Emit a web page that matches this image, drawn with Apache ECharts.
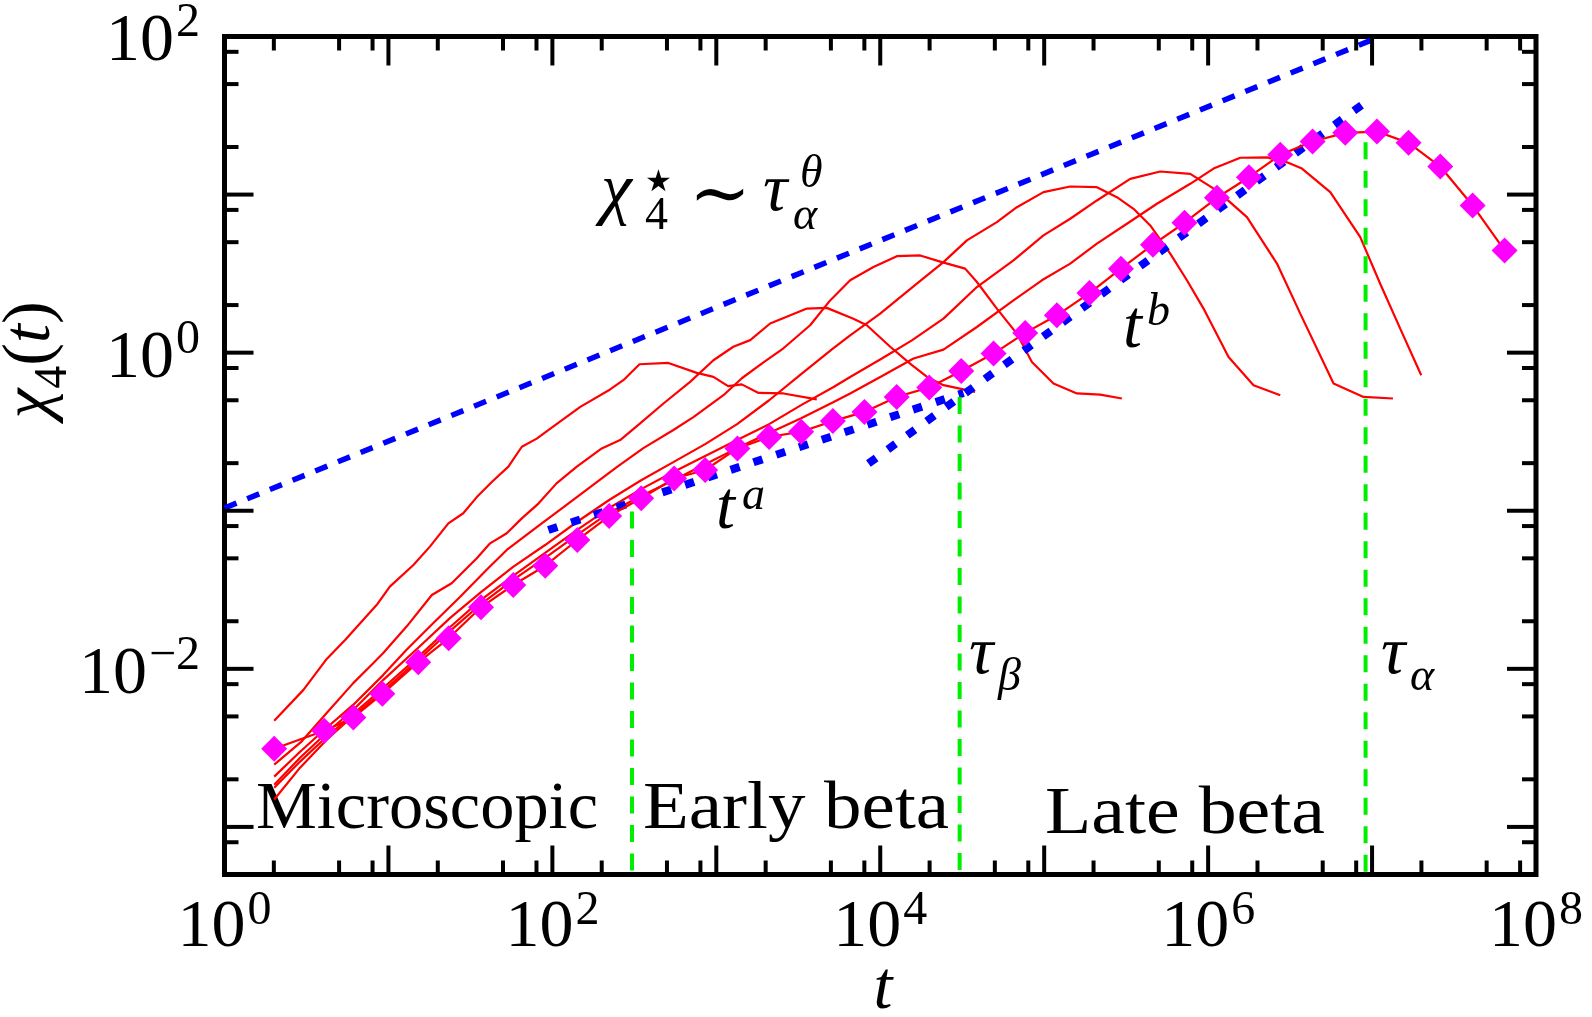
<!DOCTYPE html>
<html>
<head>
<meta charset="utf-8">
<title>chi_4(t)</title>
<script src="https://cdn.jsdelivr.net/npm/echarts@6.0.0/dist/echarts.min.js"></script>
<style>
  html, body { margin: 0; padding: 0; background: #ffffff; }
  #chart { width: 1592px; height: 1017px; }
</style>
</head>
<body>
<div id="chart"></div>
<script>
// ---------- axes ----------
const tRange = [1, 1e8];
const chiRange = [5e-4, 100];
const xMajorTicks = [1, 1e1, 1e2, 1e3, 1e4, 1e5, 1e6, 1e7, 1e8];
const yMajorTicks = [1e-4, 1e-3, 1e-2, 1e-1, 1, 1e1, 1e2];
const minorFactors = [2, 5, 8];
const xTickLabels = [[1, '0'], [1e2, '2'], [1e4, '4'], [1e6, '6'], [1e8, '8']];
const yTickLabels = [[1e-2, '\u22122'], [1, '0'], [1e2, '2']];

// ---------- chi_4(t), one curve per temperature (hottest first) ----------
const tA = [2.01, 3.03, 4.16, 5.44, 8.49, 10.2, 14.2, 17.9, 23.2, 28.6, 34.6, 42.7, 53.9, 65.1, 80.3, 101, 148, 225, 271, 340, 510, 760, 960, 1180, 1430, 1810, 2570, 4100];
const chiA = [0.0047, 0.00736, 0.0114, 0.0152, 0.0254, 0.0331, 0.0454, 0.0593, 0.0832, 0.0964, 0.122, 0.152, 0.190, 0.254, 0.286, 0.340, 0.454, 0.585, 0.670, 0.845, 0.861, 0.745, 0.703, 0.614, 0.630, 0.556, 0.552, 0.506];

const tB = [2.01, 2.96, 4.2, 6.1, 8.1, 9.3, 12.9, 18.4, 24.3, 34.6, 41.7, 52.7, 65.1, 82.2, 106, 141, 200, 259, 343, 476, 692, 960, 1270, 1610, 2130, 3570, 4720, 6860, 8280, 11500, 15200, 19300, 24300, 37900];
const chiB = [0.00248, 0.00348, 0.00525, 0.00812, 0.0109, 0.0126, 0.0185, 0.0293, 0.0348, 0.0500, 0.0622, 0.0720, 0.0895, 0.111, 0.149, 0.190, 0.248, 0.280, 0.357, 0.477, 0.653, 0.895, 1.09, 1.20, 1.53, 1.90, 1.92, 1.64, 1.49, 1.09, 0.853, 0.703, 0.623, 0.565];

const tC = [2.01, 2.89, 4.20, 6.11, 9.31, 12.9, 18.8, 27.3, 40.7, 52.7, 80.3, 117, 170, 247, 359, 547, 725, 1105, 1431, 1939, 2567, 3735, 4947, 6553, 9089, 12630, 17520, 23760, 32960, 38860, 51450, 68130, 84130, 114000, 158300, 219600, 297900];
const chiC = [0.00208, 0.00299, 0.00424, 0.00593, 0.00916, 0.0132, 0.0195, 0.0285, 0.0434, 0.0565, 0.0788, 0.1055, 0.141, 0.189, 0.249, 0.324, 0.391, 0.538, 0.689, 0.869, 1.066, 1.49, 2.14, 2.87, 3.48, 4.08, 4.12, 3.74, 3.40, 2.80, 1.90, 1.32, 0.873, 0.638, 0.552, 0.543, 0.513];

const tD = [2.01, 2.89, 4.20, 6.11, 9.31, 15.2, 23.8, 36.7, 57.6, 90.3, 141, 222, 348, 547, 855, 1339, 2100, 3292, 5160, 6553, 9986, 16720, 24300, 33760, 51450, 68130, 99000, 144100, 209700, 277700, 350600, 443500, 587300, 742600, 937600, 1332000, 1892000, 2754000];
const chiD = [0.00185, 0.00274, 0.00394, 0.00551, 0.00852, 0.0136, 0.0210, 0.0306, 0.0441, 0.0607, 0.0849, 0.117, 0.156, 0.203, 0.264, 0.353, 0.500, 0.731, 1.066, 1.288, 1.766, 2.73, 3.74, 5.13, 6.70, 8.32, 10.36, 11.25, 11.14, 9.63, 8.13, 6.38, 4.23, 2.87, 1.90, 0.940, 0.622, 0.538];

const tE = [2.01, 2.89, 4.20, 6.11, 9.31, 15.2, 23.8, 36.7, 57.6, 90.3, 141, 222, 348, 547, 855, 1339, 2100, 3292, 5160, 6553, 10230, 15590, 24300, 38860, 64960, 99000, 144100, 209700, 334700, 510400, 778000, 1132000, 1725000, 2630000, 3648000, 5823000, 8874000, 13410000];
const chiE = [0.00177, 0.00259, 0.00372, 0.00520, 0.00759, 0.0119, 0.0184, 0.0273, 0.0387, 0.0541, 0.0755, 0.104, 0.137, 0.176, 0.222, 0.280, 0.353, 0.466, 0.604, 0.702, 0.918, 1.197, 1.642, 2.60, 3.84, 5.52, 7.03, 9.18, 12.58, 14.0, 13.53, 10.6, 7.20, 3.66, 1.766, 0.638, 0.525, 0.513];

const tF = [2.01, 2.89, 4.20, 6.11, 9.31, 15.2, 23.8, 36.7, 57.6, 90.3, 141, 222, 348, 547, 855, 1339, 2100, 3292, 5160, 6553, 10460, 15950, 24300, 38860, 64960, 96830, 144100, 209700, 319600, 487100, 778000, 1079000, 1571000, 2285000, 3026000, 3736000, 5559000, 8472000, 11210000, 14850000, 19950000];
const chiF = [0.00149, 0.00237, 0.00356, 0.00505, 0.00726, 0.0114, 0.0174, 0.0257, 0.0365, 0.0503, 0.0702, 0.0972, 0.124, 0.156, 0.197, 0.249, 0.310, 0.385, 0.486, 0.552, 0.719, 0.918, 1.046, 1.453, 2.14, 2.87, 3.66, 4.89, 6.54, 8.75, 11.7, 14.6, 17.1, 17.2, 16.0, 14.6, 10.36, 5.38, 2.73, 1.42, 0.719];

// lowest temperature, drawn with markers
const tM = [2.01, 4.06, 6.11, 9.18, 15.2, 23.3, 36.7, 57.7, 90.5, 142, 222, 348, 553, 855, 1345, 2100, 3290, 5140, 8010, 12600, 19900, 31200, 49100, 76600, 119500, 188900, 293800, 460500, 717800, 1132000, 1774000, 2754000, 4335000, 6863000, 10710000, 16700000, 26070000, 41050000, 64320000];
const chiM = [0.00312, 0.00406, 0.00493, 0.00695, 0.0110, 0.0156, 0.0245, 0.0339, 0.0449, 0.0653, 0.0926, 0.120, 0.160, 0.181, 0.248, 0.293, 0.316, 0.369, 0.422, 0.525, 0.602, 0.766, 0.987, 1.334, 1.723, 2.383, 3.399, 4.818, 6.635, 9.546, 12.88, 17.84, 21.65, 24.57, 25.04, 21.24, 15.05, 8.533, 4.436];

// power laws: peak envelope chi4* ~ tau_alpha^theta, early t^a, late t^b
const envelope = [[1, 0.104], [1.12e7, 100]];
const earlyPower = [[94.5, 0.0755], [32200, 0.556]];
const latePower = [[8470, 0.199], [9.75e6, 40.3]];

// regime boundaries
const tauTimes = [306, 30500, 9.13e6];
const tauTops = [0.099, 0.525, 21.4];

// ---------- helpers ----------
const SERIF = '"Liberation Serif", "DejaVu Serif", serif';
const TICK_FONT = '68px ' + SERIF;
const SUP_FONT = '48px ' + SERIF;
const MID = 0.3375; // canvas "middle" baseline above the alphabetic one, in em

const measureCtx = document.createElement('canvas').getContext('2d');
function textWidth(text, font) { measureCtx.font = font; return measureCtx.measureText(text).width; }
function fontOf(size, italic, family) { return (italic ? 'italic ' : '') + size + 'px ' + (family || SERIF); }
function zip(ts, cs) { return ts.map((t, i) => [t, cs[i]]); }

function textEl(s, x, baseline, size, italic, family, align) {
  return {
    type: 'text', silent: true,
    style: { text: s, x: x, y: baseline - MID * size, font: fontOf(size, italic, family),
             fill: '#000', align: align || 'left', verticalAlign: 'middle' }
  };
}
// text stretched horizontally to a given width, anchored at its left end
function wideText(s, x, baseline, size, targetWidth) {
  const k = targetWidth / textWidth(s, fontOf(size, false));
  return {
    type: 'text', silent: true, x: x, y: 0, scaleX: k,
    style: { text: s, x: 0, y: baseline - MID * size, font: fontOf(size, false),
             fill: '#000', align: 'left', verticalAlign: 'middle' }
  };
}
function flow(parts) {
  let x = 0; const children = [];
  parts.forEach(([s, size, italic, dy]) => {
    children.push(textEl(s, x, dy, size, italic));
    x += textWidth(s, fontOf(size, italic));
  });
  return { children, width: x };
}

// ---------- tick marks ----------
const xTickData = [];
xMajorTicks.forEach(m => {
  xTickData.push([m, 1, 1]);
  minorFactors.forEach(f => { const v = m * f; if (v < tRange[1]) xTickData.push([v, 1, 0]); });
});
const yTickData = [];
yMajorTicks.forEach(m => {
  if (m >= chiRange[0]) yTickData.push([1, m, 1]);
  minorFactors.forEach(f => { const v = m * f; if (v > chiRange[0] * 1.001 && v < chiRange[1]) yTickData.push([1, v, 0]); });
});
const TICK_STYLE = { stroke: '#000', lineWidth: 4 };

function xTickItem(params, api) {
  const cs = params.coordSys;
  const x = api.coord([api.value(0), 1])[0];
  const len = api.value(2) ? 29 : 14;
  const b = cs.y + cs.height, t = cs.y;
  return { type: 'group', children: [
    { type: 'line', shape: { x1: x, y1: b, x2: x, y2: b - len }, style: TICK_STYLE },
    { type: 'line', shape: { x1: x, y1: t, x2: x, y2: t + len }, style: TICK_STYLE }
  ]};
}
function yTickItem(params, api) {
  const cs = params.coordSys;
  const y = api.coord([1, api.value(1)])[1];
  const len = api.value(2) ? 29 : 14;
  const l = cs.x, r = cs.x + cs.width;
  return { type: 'group', children: [
    { type: 'line', shape: { x1: l, y1: y, x2: l + len, y2: y }, style: TICK_STYLE },
    { type: 'line', shape: { x1: r, y1: y, x2: r - len, y2: y }, style: TICK_STYLE }
  ]};
}
function xLabelItem(params, api) {
  const x = api.coord([api.value(0), 1])[0];
  const exp = xTickLabels[params.dataIndex][1];
  const wBase = textWidth('10', TICK_FONT), wSup = textWidth(exp, SUP_FONT);
  const x0 = x - (wBase + wSup + 2) / 2;
  return { type: 'group', children: [
    textEl('10', x0, 951, 68, false),
    textEl(exp, x0 + wBase + 2, 928, 48, false)
  ]};
}
function yLabelItem(params, api) {
  const y = api.coord([1, api.value(1)])[1];
  const exp = yTickLabels[params.dataIndex][1];
  const right = 200;
  const wSup = textWidth(exp, SUP_FONT);
  return { type: 'group', children: [
    textEl(exp, right, y + 3.5, 48, false, null, 'right'),
    textEl('10', right - wSup - 2, y + 29, 68, false, null, 'right')
  ]};
}

// ---------- annotations ----------
const yTitle = flow([['\u03C7', 68, true, 0], ['4', 46, false, 15], ['(', 68, false, 0], ['t', 68, true, 0], [')', 68, false, 0]]);
const xTitleW = textWidth('t', fontOf(68, true));

const graphicEls = [
  { type: 'group', x: 54, y: 360 + yTitle.width / 2, rotation: Math.PI / 2, children: yTitle.children },
  textEl('t', 883 - xTitleW / 2, 1013, 68, true),
  // chi4* ~ tau_alpha^theta
  textEl('\u03C7', 601, 216, 70, true),
  textEl('4', 645, 232, 46, false),
  { type: 'text', silent: true, style: { text: '\u2605', x: 645, y: 183, font: '30px "DejaVu Sans"', fill: '#000', align: 'left', verticalAlign: 'middle' } },
  { type: 'text', silent: true, style: { text: '\u223C', x: 689, y: 199, font: '74px "DejaVu Serif"', fill: '#000', align: 'left', verticalAlign: 'middle' } },
  textEl('\u03C4', 763, 215, 68, true),
  textEl('\u03B1', 793, 232, 46, true),
  textEl('\u03B8', 800, 190, 46, true),
  // power-law exponents
  textEl('t', 716, 533, 68, true),
  textEl('a', 742, 512, 46, true),
  textEl('t', 1123, 352, 68, true),
  textEl('b', 1147, 328, 46, true),
  // relaxation times
  textEl('\u03C4', 969, 678, 68, true),
  textEl('\u03B2', 998, 693, 46, true),
  textEl('\u03C4', 1381, 678, 68, true),
  textEl('\u03B1', 1410, 693, 46, true),
  // regimes
  wideText('Microscopic', 256, 833, 68, 342),
  wideText('Early beta', 643, 833, 68, 306),
  wideText('Late beta', 1045, 838, 68, 280)
];

// ---------- chart ----------
const RED = '#ff0000', BLUE = '#0000ff', GREEN = '#00ee00', MAGENTA = '#ff00ff';
const redCurves = [[tA, chiA], [tB, chiB], [tC, chiC], [tD, chiD], [tE, chiE], [tF, chiF]];

const series = [];
redCurves.forEach(([t, c]) => series.push({
  type: 'line', data: zip(t, c), symbol: 'none', silent: true, z: 2,
  lineStyle: { color: RED, width: 2.2 }
}));
series.push({ type: 'line', data: envelope, symbol: 'none', silent: true, z: 3,
  lineStyle: { color: BLUE, width: 5.5, type: [13, 11.5] } });
series.push({ type: 'line', data: earlyPower, symbol: 'none', silent: true, z: 3,
  lineStyle: { color: BLUE, width: 8, type: [9.5, 14.5] } });
series.push({ type: 'line', data: latePower, symbol: 'none', silent: true, z: 3,
  lineStyle: { color: BLUE, width: 8, type: [9.5, 14.5] } });
tauTimes.forEach((tau, i) => series.push({
  type: 'line', data: [[tau, tauTops[i]], [tau, chiRange[0]]], symbol: 'none', silent: true, z: 4,
  lineStyle: { color: GREEN, width: 4, type: [17, 11.5] }
}));
series.push({ type: 'line', data: zip(tM, chiM), symbol: 'diamond', symbolSize: 26, showSymbol: true,
  silent: true, z: 5, itemStyle: { color: MAGENTA }, lineStyle: { color: RED, width: 2.2 } });
series.push({ type: 'custom', data: xTickData, renderItem: xTickItem, clip: false, silent: true, z: 6 });
series.push({ type: 'custom', data: yTickData, renderItem: yTickItem, clip: false, silent: true, z: 6 });
series.push({ type: 'custom', data: xTickLabels.map(d => [d[0], 1]), renderItem: xLabelItem, clip: false, silent: true, z: 6 });
series.push({ type: 'custom', data: yTickLabels.map(d => [1, d[0]]), renderItem: yLabelItem, clip: false, silent: true, z: 6 });

const chart = echarts.init(document.getElementById('chart'), null, { renderer: 'canvas', width: 1592, height: 1017 });
chart.setOption({
  animation: false,
  backgroundColor: '#ffffff',
  grid: { left: 224.5, top: 36.5, width: 1311.5, height: 838, show: true,
          borderColor: '#000', borderWidth: 5, backgroundColor: 'transparent' },
  xAxis: { type: 'log', logBase: 10, min: tRange[0], max: tRange[1],
           axisLine: { show: false }, axisTick: { show: false }, axisLabel: { show: false }, splitLine: { show: false } },
  yAxis: { type: 'log', logBase: 10, min: chiRange[0], max: chiRange[1],
           axisLine: { show: false }, axisTick: { show: false }, axisLabel: { show: false }, splitLine: { show: false } },
  graphic: { elements: graphicEls },
  series: series
});
</script>
</body>
</html>
